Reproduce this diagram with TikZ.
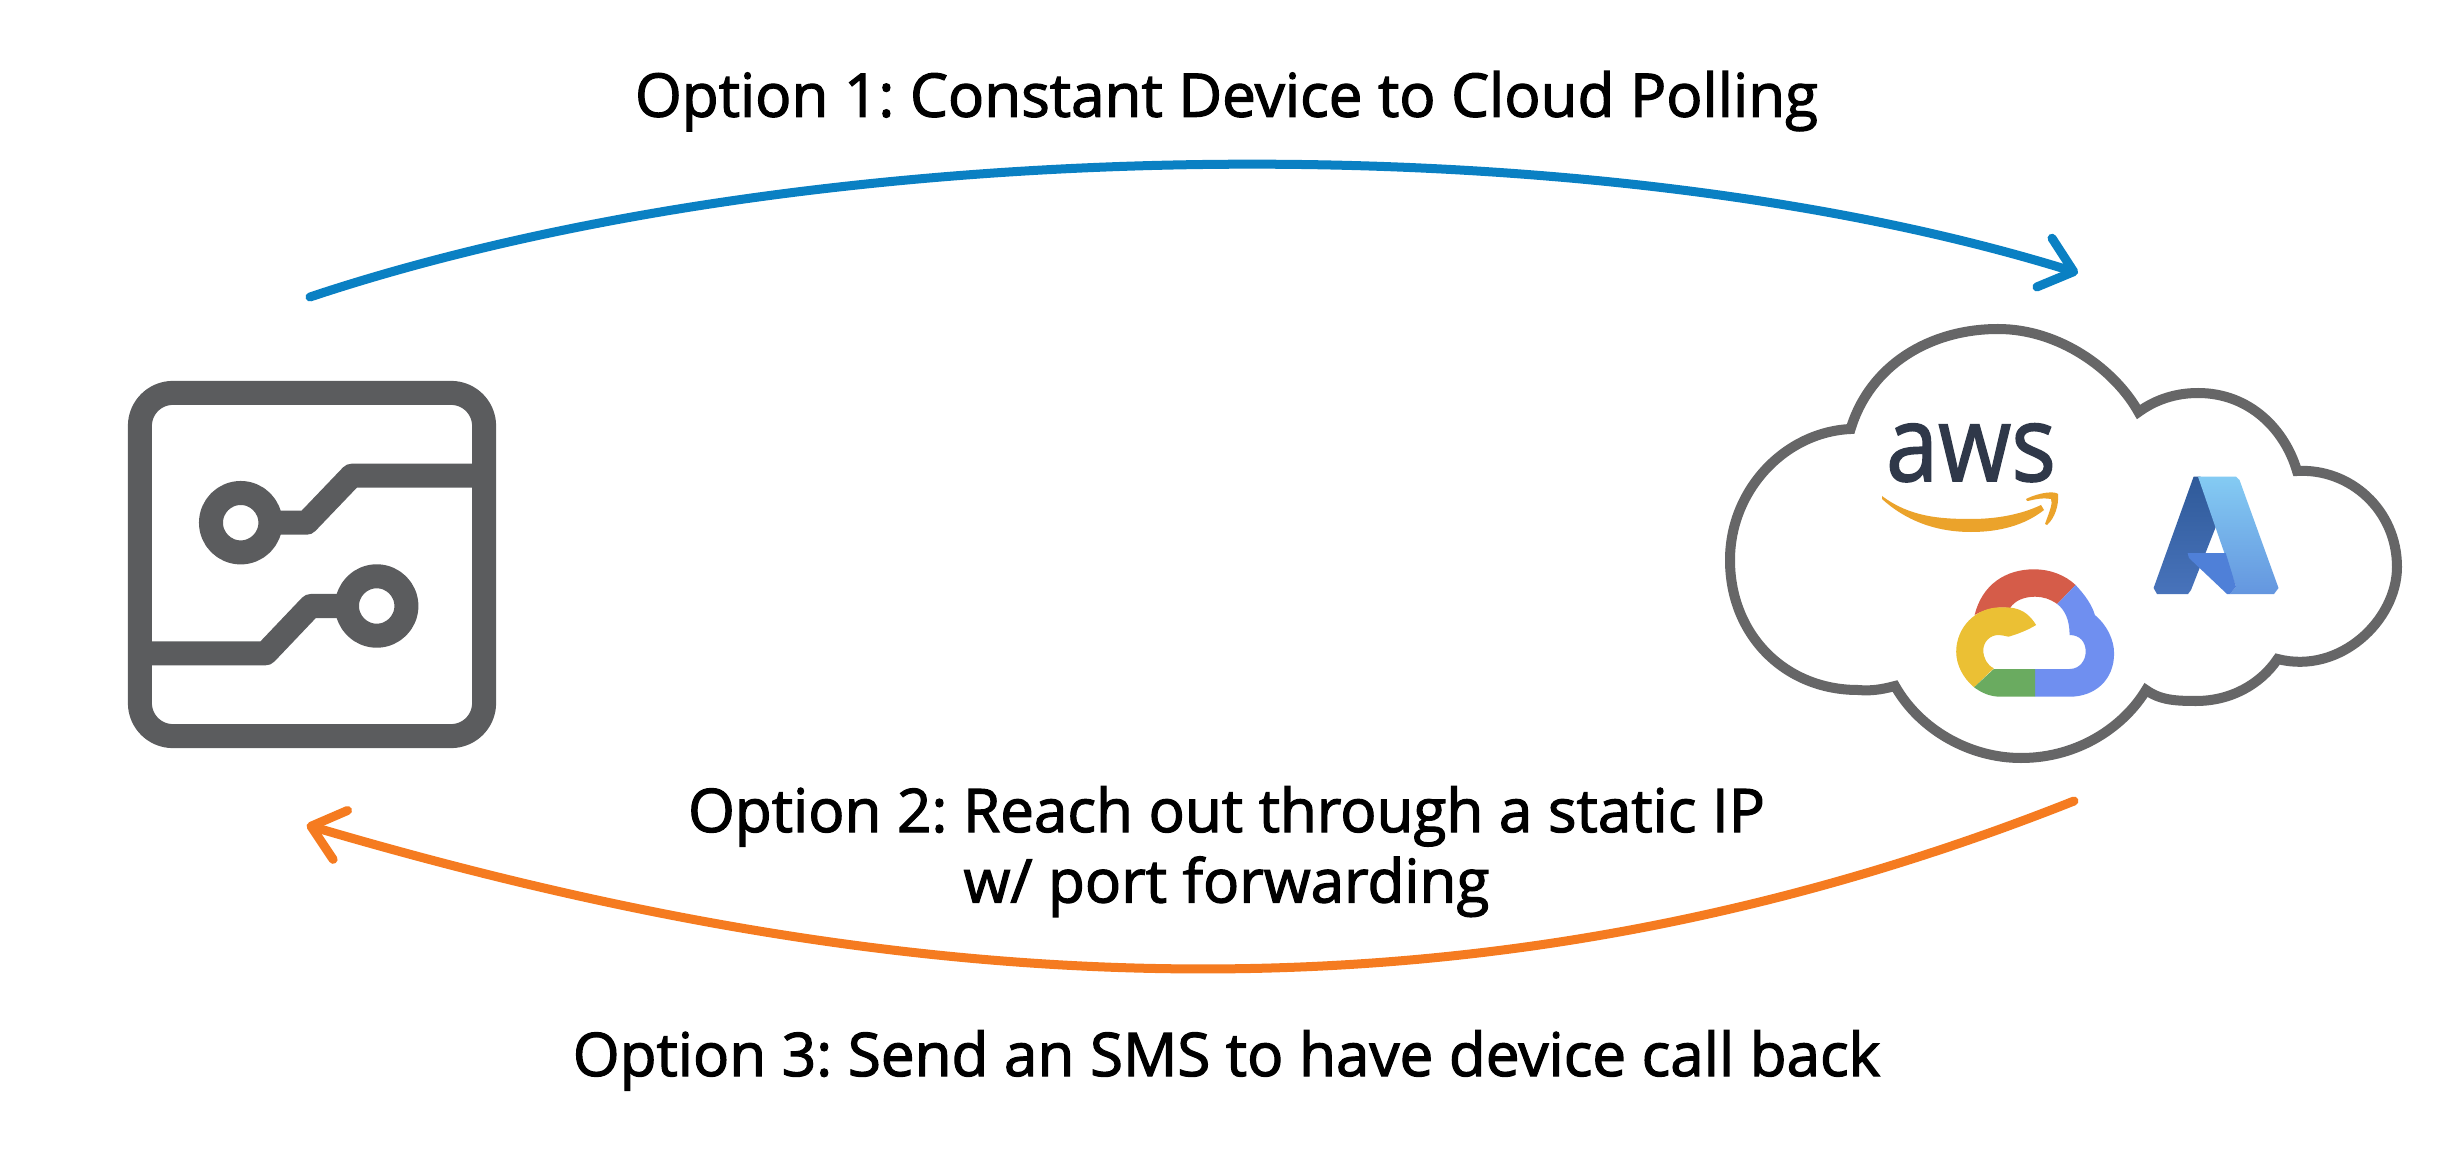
\documentclass[tikz,border=0pt]{standalone}
\usepackage{fontspec}
\setmainfont[FakeBold=2.0]{Open Sans}
\newfontfamily\logofont[FakeBold=1.5]{Open Sans}
\usetikzlibrary{arrows.meta}
\definecolor{devgray}{HTML}{5B5C5E}
\definecolor{cloudgray}{HTML}{666667}
\definecolor{pollblue}{HTML}{0A80C3}
\definecolor{callorange}{HTML}{F57B20}
\definecolor{awsnavy}{HTML}{2F3849}
\definecolor{awsorange}{HTML}{EBA32B}
\definecolor{azdarktop}{HTML}{2F5A99}
\definecolor{azdarkbot}{HTML}{4873BB}
\definecolor{azlighttop}{HTML}{84CBF3}
\definecolor{azlightbot}{HTML}{6496DF}
\definecolor{azmid}{HTML}{4F80D8}
\definecolor{gred}{HTML}{D55C49}
\definecolor{gblue}{HTML}{6F8FF0}
\definecolor{gyellow}{HTML}{EBC034}
\definecolor{ggreen}{HTML}{6AAB60}
\tikzstyle{caption} = [anchor=base, inner sep=0pt, font=\fontsize{17.1}{20}\selectfont\frenchspacing]
\tikzstyle{trace} = [line width=.24cm, color=devgray, line join=round]
\tikzstyle{board} = [trace, draw, rounded corners=.33cm, outer sep=0pt, minimum width=3.44cm, minimum height=3.43cm]
\tikzstyle{pad} = [trace, draw, circle, fill=white, outer sep=0pt, inner sep=0pt, minimum size=.594cm]
\tikzstyle{option} = [line width=.09cm, line cap=round, -{Straight Barb[length=8.7pt, width=14.5pt, round]}]

\begin{document}
\begin{tikzpicture}[x=.01cm, y=-.01cm]
                    \useasboundingbox (0,0) rectangle (2453,1176);

                    \node[board] (device) at (312,564.5) {};
                    \node[pad] (padone) at (240.7,522.7) {};
                    \node[pad] (padtwo) at (376.7,606) {};
                    \draw[trace] (padone) -- (306.7,522.7) -- (351.7,475.7) -- (device.east |- 0,475.7);
                    \draw[trace] (padtwo) -- (310.7,606) -- (265.7,653.3) -- (device.west |- 0,653.3);

                    \draw[cloudgray, line width=.1cm, fill=white, miter limit=20] (1850.6,429)
                        .. controls (1870,365) and (1930,329) .. (1998,329)
                        .. controls (2060,329) and (2115,370) .. (2138.5,412)
                        .. controls (2155,400) and (2175,393) .. (2198,393)
                        .. controls (2250,393) and (2285,430) .. (2297,471)
                        .. controls (2350,468) and (2397,510) .. (2397,567)
                        .. controls (2397,620) and (2340,675) .. (2277.6,659)
                        .. controls (2260,685) and (2230,701) .. (2196,701)
                        .. controls (2175,701) and (2160,700) .. (2146,690)
                        .. controls (2125,725) and (2080,758) .. (2021,758)
                        .. controls (1970,758) and (1920,730) .. (1895,686)
                        .. controls (1880,690) and (1870,691) .. (1858,690)
                        .. controls (1785,690) and (1730,635) .. (1730,560)
                        .. controls (1730,490) and (1785,432) .. (1850.6,429) -- cycle;

                    \node[anchor=base, inner sep=0pt, text=awsnavy, font=\logofont\fontsize{30}{30}\selectfont] (aws) at (1971,481) {\scalebox{.89}[1]{aws}};
                    \fill[awsorange] (1882,496) .. controls (1910,517) and (1940,519) .. (1971,519)
                        .. controls (1995,519) and (2020,515) .. (2041,505) -- (2044,510)
                        .. controls (2025,525) and (2000,532) .. (1971,532)
                        .. controls (1935,532) and (1905,520) .. (1882,499) -- cycle;
                    \fill[awsorange] (2026,499) .. controls (2040,492) and (2055,491) .. (2058,494)
                        .. controls (2059,505) and (2055,518) .. (2047,525) -- (2045,524)
                        .. controls (2050,510) and (2053,503) .. (2051,499)
                        .. controls (2040,497) and (2030,501) .. (2027,501) -- cycle;

                    \shade[top color=azdarktop, bottom color=azdarkbot] (2193.6,476.7) -- (2200.5,476.7) -- (2216.5,525) -- (2191,590) -- (2188,594) -- (2157,594) -- (2153.6,588) -- cycle;
                    \shade[top color=azlighttop, bottom color=azlightbot] (2198,476.7) -- (2236,476.7) -- (2239.5,480) -- (2278.5,588) -- (2274,594) -- (2230,594) -- (2236,586.7) -- cycle;
                    \fill[azmid] (2187.6,553) -- (2225.7,553) -- (2236,586.7) -- (2230,594) -- (2227,594) -- (2189,558) -- cycle;

                    \fill[gred] (1974.6,615) .. controls (1982,585) and (2005,569.3) .. (2034.2,569.3)
                        .. controls (2050,569.3) and (2065,575) .. (2075.6,585) -- (2057.2,604)
                        .. controls (2050,599) and (2043,596.7) .. (2035.2,596.7)
                        .. controls (2025,596.7) and (2015,600) .. (2009.9,608.3)
                        .. controls (2000,606) and (1985,609) .. (1974.6,615) -- cycle;
                    \fill[gblue] (2075.6,585) .. controls (2085,595) and (2092,605) .. (2094.9,615)
                        .. controls (2107,625) and (2114.1,640) .. (2114.1,653.3)
                        .. controls (2114.1,680) and (2095,696.7) .. (2069.6,696.7) -- (2035.2,696.7) -- (2035.2,669) -- (2069.6,669)
                        .. controls (2080,669) and (2085.7,660) .. (2085.7,651.7)
                        .. controls (2085.7,642) and (2080,635) .. (2069.6,635)
                        .. controls (2069.6,620) and (2065,610) .. (2057.2,604) -- cycle;
                    \fill[gyellow] (2036.1,625) .. controls (2025,607) and (2012,607.3) .. (2000.7,607.3)
                        .. controls (1975,607.3) and (1956.2,628) .. (1956.2,651.7)
                        .. controls (1956.2,665) and (1963,678) .. (1974.1,687.3) -- (1993.8,668.3)
                        .. controls (1987,665) and (1983.3,658) .. (1983.3,650)
                        .. controls (1983.3,642) and (1990,635) .. (1998.4,635)
                        .. controls (2002,635) and (2005,636) .. (2008.5,636.7)
                        .. controls (2018,634) and (2028,630) .. (2036.1,625) -- cycle;
                    \fill[ggreen] (1993.8,669) -- (2035.2,669) -- (2035.2,696.7) -- (2000.7,696.7)
                        .. controls (1990,696.7) and (1982,693) .. (1974.1,687.3) -- cycle;

                    \coordinate (pollstart) at (310,297);
                    \coordinate (pollend) at (2078,273);
                    \coordinate (reachstart) at (2074,801);
                    \coordinate (reachend) at (306.7,825);
                    \draw[option, pollblue] (pollstart) .. controls (805,132) and (1579,118) .. (pollend);
                    \draw[option, callorange] (reachstart) .. controls (1477,1038) and (911,1003) .. (reachend);

                    \node[caption] (optionone) at (1226.5,116.7) {Option 1: Constant Device to Cloud Polling};
                    \node[caption] (optiontwo) at (1226.5,832) {Option 2: Reach out through a static IP};
                    \node[caption] (optiontwob) at (1226.5,902.5) {w/ port forwarding};
                    \node[caption] (optionthree) at (1226.5,1076) {Option 3: Send an SMS to have device call back};
                \end{tikzpicture}
\end{document}
